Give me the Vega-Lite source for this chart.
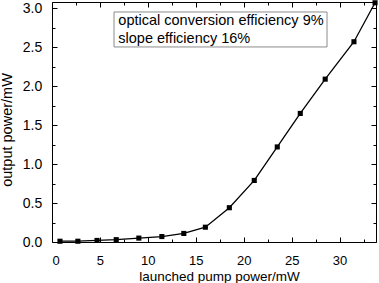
{
  "$schema": "https://vega.github.io/schema/vega-lite/v6.json",
  "width": 324,
  "height": 240,
  "autosize": {"type": "none"},
  "padding": {"left": 52, "top": 2, "right": 3, "bottom": 41},
  "background": "white",
  "config": {
    "view": {"stroke": null},
    "font": "Liberation Sans",
    "axis": {"grid": false, "domainColor": "black", "tickColor": "black", "labelColor": "black", "titleColor": "black", "labelFont": "Liberation Sans", "titleFont": "Liberation Sans", "titleFontWeight": "normal"}
  },
  "datasets": {
    "curve": [
      {"p": 0.83, "o": 0.01},
      {"p": 2.7, "o": 0.01},
      {"p": 4.7, "o": 0.02},
      {"p": 6.7, "o": 0.03},
      {"p": 9.06, "o": 0.05},
      {"p": 11.46, "o": 0.07},
      {"p": 13.75, "o": 0.11},
      {"p": 16.0, "o": 0.19},
      {"p": 18.5, "o": 0.44},
      {"p": 21.1, "o": 0.79},
      {"p": 23.5, "o": 1.22},
      {"p": 25.9, "o": 1.65},
      {"p": 28.5, "o": 2.09},
      {"p": 31.5, "o": 2.57},
      {"p": 33.7, "o": 3.07}
    ],
    "note": [
      {"line1": "optical conversion efficiency 9%", "line2": "slope efficiency 16%"}
    ]
  },
  "resolve": {"axis": {"x": "independent", "y": "independent"}},
  "layer": [
    {
      "data": {"name": "note"},
      "mark": {"type": "rect", "fill": "white", "stroke": "#8c8c8c", "strokeWidth": 1},
      "encoding": {
        "x": {"datum": 6.47, "type": "quantitative", "axis": null},
        "x2": {"datum": 28.69},
        "y": {"datum": 2.952, "type": "quantitative", "axis": null},
        "y2": {"datum": 2.503}
      }
    },
    {
      "data": {"name": "note"},
      "mark": {"type": "text", "align": "left", "baseline": "alphabetic", "fontSize": 14.5, "fontWeight": "normal", "color": "black", "font": "Liberation Sans"},
      "encoding": {
        "x": {"datum": 6.92, "type": "quantitative", "axis": null},
        "y": {"datum": 2.781, "type": "quantitative", "axis": null},
        "text": {"field": "line1"}
      }
    },
    {
      "data": {"name": "note"},
      "mark": {"type": "text", "align": "left", "baseline": "alphabetic", "fontSize": 14.5, "fontWeight": "normal", "color": "black", "font": "Liberation Sans"},
      "encoding": {
        "x": {"datum": 6.92, "type": "quantitative", "axis": null},
        "y": {"datum": 2.55, "type": "quantitative", "axis": null},
        "text": {"field": "line2"}
      }
    },
    {
      "data": {"name": "curve"},
      "mark": {"type": "line", "color": "black", "strokeWidth": 1.3, "point": {"shape": "square", "filled": true, "size": 26, "color": "black", "opacity": 1}},
      "encoding": {
        "x": {"field": "p", "type": "quantitative", "scale": {"domain": [0, 33.8], "nice": false, "zero": false},
          "axis": {"title": "launched pump power/mW", "titleFontSize": 13.5, "titleX": 167, "titleY": 38, "titleBaseline": "alphabetic", "labelFontSize": 13, "labelPadding": 17,
            "values": [0, 2.5, 5, 7.5, 10, 12.5, 15, 17.5, 20, 22.5, 25, 27.5, 30, 32.5],
            "labelExpr": "datum.value % 5 === 0 ? datum.label : ''",
            "tickSize": {"condition": {"test": "datum.value % 5 === 0", "value": -5}, "value": -3}}},
        "y": {"field": "o", "type": "quantitative", "scale": {"domain": [0, 3.08], "nice": false, "zero": false},
          "axis": {"title": "output power/mW", "titleFontSize": 14.5, "titleX": -40.5, "titleY": 127.5, "titleBaseline": "alphabetic", "titleAngle": -90, "labelFontSize": 14, "labelPadding": 15.3,
            "values": [0, 0.25, 0.5, 0.75, 1, 1.25, 1.5, 1.75, 2, 2.25, 2.5, 2.75, 3],
            "labelExpr": "datum.value % 0.5 === 0 ? format(datum.value, '.1f') : ''",
            "tickSize": {"condition": {"test": "datum.value % 0.5 === 0", "value": -5}, "value": -3}}}
      }
    },
    {
      "data": {"name": "curve"},
      "mark": {"type": "point", "opacity": 0},
      "encoding": {
        "x": {"field": "p", "type": "quantitative",
          "axis": {"orient": "top", "title": null, "labels": false,
            "values": [0, 2.5, 5, 7.5, 10, 12.5, 15, 17.5, 20, 22.5, 25, 27.5, 30, 32.5],
            "tickSize": {"condition": {"test": "datum.value % 5 === 0", "value": -5}, "value": -3}}},
        "y": {"field": "o", "type": "quantitative",
          "axis": {"orient": "right", "title": null, "labels": false,
            "values": [0, 0.25, 0.5, 0.75, 1, 1.25, 1.5, 1.75, 2, 2.25, 2.5, 2.75, 3],
            "tickSize": {"condition": {"test": "datum.value % 0.5 === 0", "value": -5}, "value": -3}}}
      }
    }
  ]
}
